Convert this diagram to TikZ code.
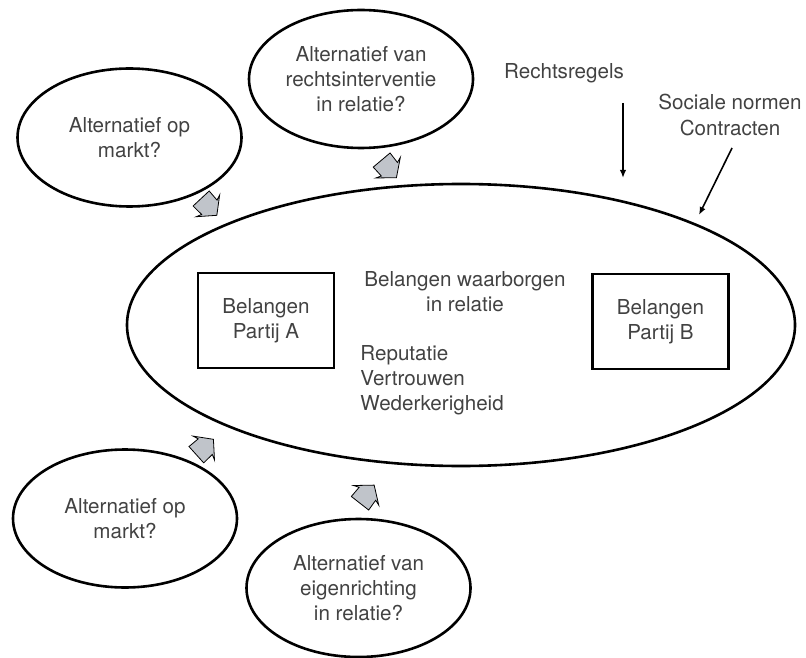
\documentclass[tikz,border=0pt]{standalone}
\usepackage{fontspec}
\setmainfont{TeX Gyre Heros}
\usetikzlibrary{shapes.geometric,arrows.meta}
\definecolor{tekst}{RGB}{66,66,66}
\definecolor{pijlgrijs}{RGB}{192,196,202}
\tikzset{
  ovaal/.style={draw,ellipse,line width=1.3pt,inner sep=0pt,minimum width=112pt,
    minimum height=69pt,align=center,text=tekst},
  kader/.style={draw,line width=1.3pt,minimum width=68pt,minimum height=47.5pt,
    align=center,text=tekst},
  tekstje/.style={align=center,text=tekst,inner sep=0pt},
  pijl/.style={line width=.8pt,-{Latex[length=4pt,width=3.2pt]}},
  blokpijl/.pic={
    \draw[fill=pijlgrijs,line width=.4pt,line join=miter]
      (-13,-11)--(-1,-10.5)--(-3,-16)--(10,0)--(-3,16)--(-1,10.5)--(-13,11)--cycle;
  }
}
\begin{document}
\begin{tikzpicture}[x=.5pt,y=-.5pt,font=\fontsize{10.3}{12.6}\selectfont]
  \useasboundingbox (0,0) rectangle (806,657);
  % grote relatie
  \node[ovaal,minimum width=334pt,minimum height=141pt] (relatie) at (461,325) {};
  \node[kader] (partijA) at (266,320.5) {Belangen\\Partij A};
  \node[kader] (partijB) at (660.5,321.5) {Belangen\\Partij B};
  \node[tekstje] (waarborg) at (465,292) {Belangen waarborgen\\in relatie};
  \node[tekstje,align=left,anchor=west] (middelen) at (360,380)
    {Reputatie\\Vertrouwen\\Wederkerigheid};
  % alternatieven
  \node[ovaal] (markt1) at (129.5,137.5) {Alternatief op\\markt?};
  \node[ovaal] (recht) at (361,79) {Alternatief van\\rechtsinterventie\\in relatie?};
  \node[ovaal] (markt2) at (125,518.5) {Alternatief op\\markt?};
  \node[ovaal] (eigen) at (358.5,588) {Alternatief van\\eigenrichting\\in relatie?};
  \pic[rotate=-47] at (210,208) {blokpijl};
  \pic[rotate=-50] at (390,170) {blokpijl};
  \pic[rotate=42] at (206,446) {blokpijl};
  \pic[rotate=52] at (368,493) {blokpijl};
  % regels van buiten
  \node[tekstje] (regels) at (564,73) {Rechtsregels};
  \node[tekstje] (normen) at (730,115) {Sociale normen\\Contracten};
  \coordinate (regelsbegin) at (623,103);
  \coordinate (regelseind) at (623,178);
  \coordinate (normenbegin) at (732,148);
  \coordinate (normeneind) at (699,215);
  \draw[pijl] (regelsbegin)--(regelseind);
  \draw[pijl] (normenbegin)--(normeneind);
\end{tikzpicture}
\end{document}
